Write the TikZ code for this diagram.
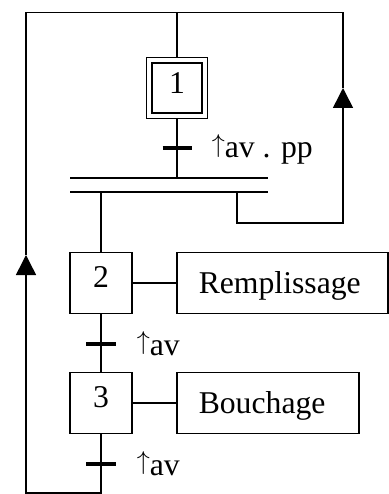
\documentclass[tikz,border=0pt]{standalone}
\usepackage{fontspec}
\usepackage{graphicx}
\setmainfont{Liberation Serif}
\usetikzlibrary{arrows.meta}
\newcommand\myuparrow{\raisebox{0.16em}{\resizebox*{!}{0.73em}{$\uparrow$}}}
\begin{document}
\begin{tikzpicture}[x=1pt,y=-1pt, line width=1.5pt,
  every node/.style={font=\fontsize{31.7}{38}\selectfont},
  stepbox/.style={draw, minimum width=62pt, minimum height=61pt, inner sep=0pt, text height=9pt, text depth=0pt},
  actbox/.style={draw, minimum height=61pt, inner xsep=22pt, inner ysep=0pt, align=left, anchor=west, text height=21pt, text depth=0pt},
  trbar/.style={line width=4pt},
  uparrow/.style={-{Triangle[width=20pt,length=20pt]}},
  lbl/.style={anchor=base west, inner sep=0pt}]
\useasboundingbox (0,0) rectangle (388,494);
% steps
\node[draw, line width=1.2pt, minimum width=61pt, minimum height=61pt, inner sep=0pt] (s1) at (177,88) {};
\node[draw, line width=2.5pt, minimum size=50pt, inner sep=0pt, text height=12pt, text depth=0pt] (s1i) at (177,88) {1};
\node[stepbox] (s2) at (101,283) {2};
\node[stepbox] (s3) at (101,403) {3};
% actions
\node[actbox, text width=167pt] (a2) at (176,283) {Remplissage};
\node[actbox, text width=138pt] (a3) at (176,403) {Bouchage};
\draw (s2.east) -- (a2.west);
\draw (s3.east) -- (a3.west);
% coordinates
\coordinate (ttop) at (177,12.5);
\coordinate (lt) at (26,12.5);
\coordinate (k4) at (343,12.5);
\coordinate (t1) at (177,148);
\coordinate (sy1) at (177,178);
\coordinate (syAl) at (70,178);
\coordinate (syAr) at (268,178);
\coordinate (syBl) at (70,192);
\coordinate (syBr) at (268,192);
\coordinate (j2) at (101,192);
\coordinate (j3) at (237,192);
\coordinate (k1) at (237,223);
\coordinate (k2) at (343,223);
\coordinate (k3) at (343,88);
\coordinate (t2) at (101,344);
\coordinate (t3) at (101,464);
\coordinate (b3) at (101,493);
\coordinate (lb) at (26,493);
\coordinate (la) at (26,255);
% links
\draw (s1.north) -- (ttop);
\draw (s1.south) -- (sy1);
\draw[trbar] ([xshift=-14.5pt]t1) -- ([xshift=14.5pt]t1);
\draw (syAl) -- (syAr);
\draw (syBl) -- (syBr);
\draw (j2) -- (s2.north);
\draw[uparrow] (j3) -- (k1) -- (k2) -- (k3);
\draw (k3) -- (k4);
\draw (s2.south) -- (s3.north);
\draw[trbar] ([xshift=-15pt]t2) -- ([xshift=15pt]t2);
\draw[uparrow] (s3.south) -- (b3) -- (lb) -- (la);
\draw[trbar] ([xshift=-15pt]t3) -- ([xshift=15pt]t3);
\draw (la) -- (lt) -- (k4);
% receptivities
\node[lbl] (l1) at (211,158) {\myuparrow av . pp};
\node[lbl] (l2) at (136,355) {\myuparrow av};
\node[lbl] (l3) at (136,475) {\myuparrow av};
\end{tikzpicture}
\end{document}
